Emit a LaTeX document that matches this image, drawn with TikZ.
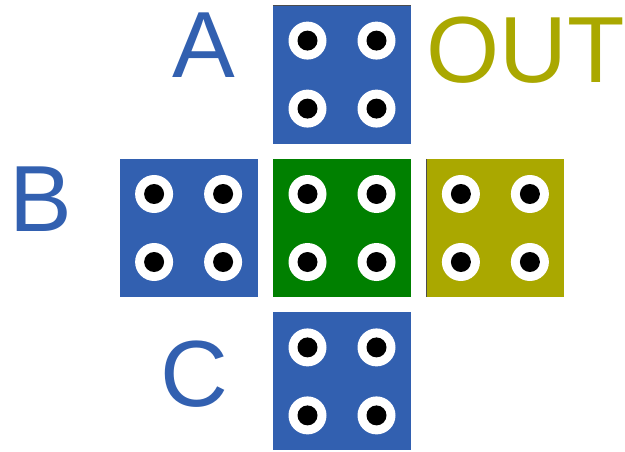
\documentclass[tikz,border=0pt]{standalone}
\usepackage{fontspec}
\setmainfont{Liberation Sans}
\usepackage{xcolor}
\usetikzlibrary{positioning}

\definecolor{padblue}{RGB}{50,96,176}
\definecolor{padgreen}{RGB}{0,128,0}
\definecolor{padolive}{RGB}{170,168,0}

\begin{document}
\begin{tikzpicture}[
    x=1pt, y=-1pt,
    node distance=15pt,
    pad/.style={
      rectangle,
      minimum size=138pt,
      inner sep=0pt,
      fill=#1
    },
    letter/.style={
      text=#1,
      anchor=base,
      inner sep=0pt,
      font=\fontsize{94}{94}\selectfont
    }
  ]
  \useasboundingbox (0,0) rectangle (625,452);

  % the five pads
  \node[pad=padgreen] (mid) at (342,228) {};
  \node[pad=padblue, above=of mid] (a) {};
  \node[pad=padblue, left=of mid] (b) {};
  \node[pad=padblue, below=of mid] (c) {};
  \node[pad=padolive, right=of mid] (out) {};

  \draw[black!70, line width=1.2pt] (a.north west) -- (a.north east);
  \draw[black!70, line width=1.2pt] (out.north west) -- (out.south west);

  % holes
  \foreach \p in {a,b,c,mid,out} {
    \foreach \dx in {-34.5,34.5} {
      \foreach \dy in {-34,34} {
        \fill[white] ([xshift=\dx pt, yshift=\dy pt]\p.center) circle[radius=19pt];
        \fill[black] ([xshift=\dx pt, yshift=\dy pt]\p.center) circle[radius=10pt];
      }
    }
  }

  % labels
  \node[letter=padblue] (la) at (203.5,78) {A};
  \node[letter=padblue] (lb) at (41,232) {B};
  \node[letter=padblue] (lc) at (194,406) {C};
  \node[letter=padolive] (lout) at (526,83) {OUT};
\end{tikzpicture}
\end{document}
